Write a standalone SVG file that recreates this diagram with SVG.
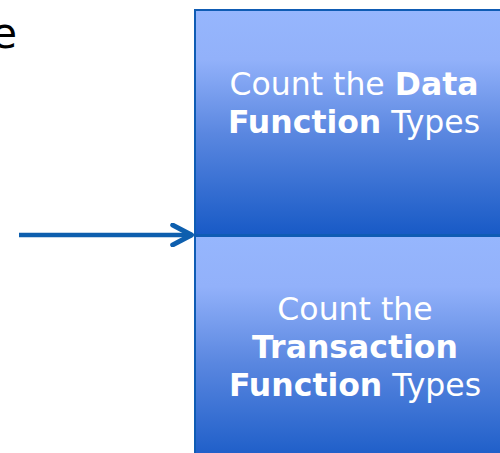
<svg xmlns="http://www.w3.org/2000/svg" width="500" height="453" viewBox="0 0 500 453">
  <defs>
    <linearGradient id="boxFill" x1="0" y1="0" x2="0" y2="1">
      <stop offset="0" stop-color="#96b6fd"/>
      <stop offset="0.22" stop-color="#92b1fa"/>
      <stop offset="0.55" stop-color="#5a87e0"/>
      <stop offset="1" stop-color="#185ac6"/>
    </linearGradient>
    <marker id="chevron" viewBox="0 0 10 10" refX="9" refY="5" markerWidth="5.5" markerHeight="5.5" markerUnits="strokeWidth" orient="auto">
      <path d="M1.2,1 L8.8,5 L1.2,9" fill="none" stroke="#0e5fae" stroke-width="2" stroke-linecap="round" stroke-linejoin="round"/>
    </marker>
    <style>
      .box { fill: url(#boxFill); stroke: #0f5cb4; stroke-width: 2; }
      .label { font-family: "DejaVu Sans", Verdana, sans-serif; font-size: 31.5px; fill: #ffffff; text-anchor: middle; }
      .label tspan.b { font-weight: bold; }
      .conn { stroke: #0e5fae; stroke-width: 4.5; fill: none; }
    </style>
  </defs>

  <text x="17" y="48" font-family="DejaVu Sans, Verdana, sans-serif" font-size="42" fill="#000000" text-anchor="end">e</text>

  <g id="data-functions">
    <rect class="box" x="195" y="10" width="320" height="225"/>
    <text class="label" x="354" y="95">Count the <tspan class="b">Data</tspan></text>
    <text class="label" x="354" y="133"><tspan class="b">Function</tspan> Types</text>
  </g>

  <g id="transaction-functions">
    <rect class="box" x="195" y="236" width="320" height="230"/>
    <text class="label" x="355" y="320">Count the</text>
    <text class="label" x="355" y="358"><tspan class="b">Transaction</tspan></text>
    <text class="label" x="355" y="396"><tspan class="b">Function</tspan> Types</text>
  </g>

  <g id="connectors">
    <line class="conn" x1="19" y1="235" x2="192" y2="235" marker-end="url(#chevron)"/>
  </g>
</svg>
